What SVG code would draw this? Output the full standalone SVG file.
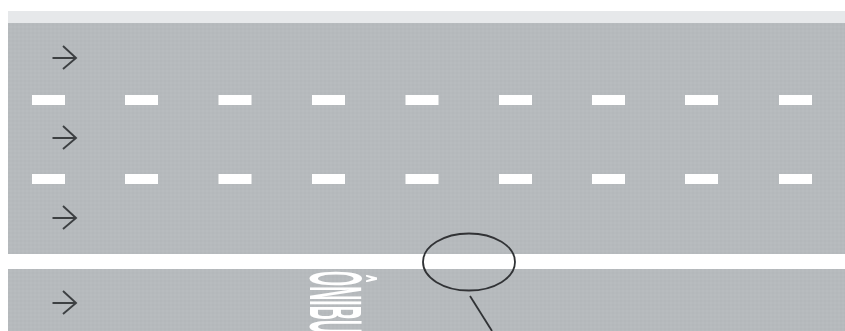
<svg xmlns="http://www.w3.org/2000/svg" width="845" height="331" viewBox="0 0 845 331">
  <defs>
    <pattern id="asphalt" width="4" height="4" patternUnits="userSpaceOnUse">
      <rect width="4" height="4" fill="#b6babd"/>
      <rect width="2" height="2" fill="#b4b8bb"/>
      <rect x="2" y="2" width="2" height="2" fill="#b8bcbf"/>
    </pattern>
    <filter id="soft" x="-10%" y="-10%" width="120%" height="120%"><feGaussianBlur stdDeviation="0.6"/></filter>
    <path id="arrow" d="M-11.500 0H12M-1 -12L12 0L-1 11" fill="none" stroke="#3c3f42" stroke-width="1.900"/>
    <rect id="dash" width="33" height="10" fill="#ffffff"/>
  </defs>
  <style>
    .road { fill: url(#asphalt); }
    .label { font-family: "Liberation Sans", Arial, sans-serif; font-weight: bold; font-size: 75px; fill: #ffffff; }
  </style>
  <rect width="845" height="331" fill="#ffffff"/>
  <g id="road">
    <rect x="8" y="11" width="837" height="12" fill="#e6e8ea"/>
    <rect class="road" x="8" y="23" width="837" height="231"/>
    <rect class="road" x="8" y="269" width="837" height="62"/>
  </g>
  <g id="lane-dashes" filter="url(#soft)">
    <use href="#dash" x="32" y="95"/><use href="#dash" x="125" y="95"/><use href="#dash" x="218.500" y="95"/>
    <use href="#dash" x="312" y="95"/><use href="#dash" x="405.500" y="95"/><use href="#dash" x="499" y="95"/>
    <use href="#dash" x="592" y="95"/><use href="#dash" x="685" y="95"/><use href="#dash" x="779" y="95"/>
    <use href="#dash" x="32" y="174"/><use href="#dash" x="125" y="174"/><use href="#dash" x="218.500" y="174"/>
    <use href="#dash" x="312" y="174"/><use href="#dash" x="405.500" y="174"/><use href="#dash" x="499" y="174"/>
    <use href="#dash" x="592" y="174"/><use href="#dash" x="685" y="174"/><use href="#dash" x="779" y="174"/>
  </g>
  <g id="arrows" filter="url(#soft)">
    <use href="#arrow" x="64" y="58"/>
    <use href="#arrow" x="64" y="138"/>
    <use href="#arrow" x="64" y="218"/>
    <use href="#arrow" x="64" y="303"/>
  </g>
  <g id="bus-label" filter="url(#soft)">
    <text class="label" transform="translate(310 271) rotate(90) scale(0.26 1)">ÔNIBUS</text>
  </g>
  <g id="connectors" filter="url(#soft)">
    <ellipse cx="469" cy="262" rx="46" ry="28.500" fill="none" stroke="#303336" stroke-width="1.800"/>
    <path d="M470 296L492 331" fill="none" stroke="#303336" stroke-width="1.800"/>
  </g>
</svg>
